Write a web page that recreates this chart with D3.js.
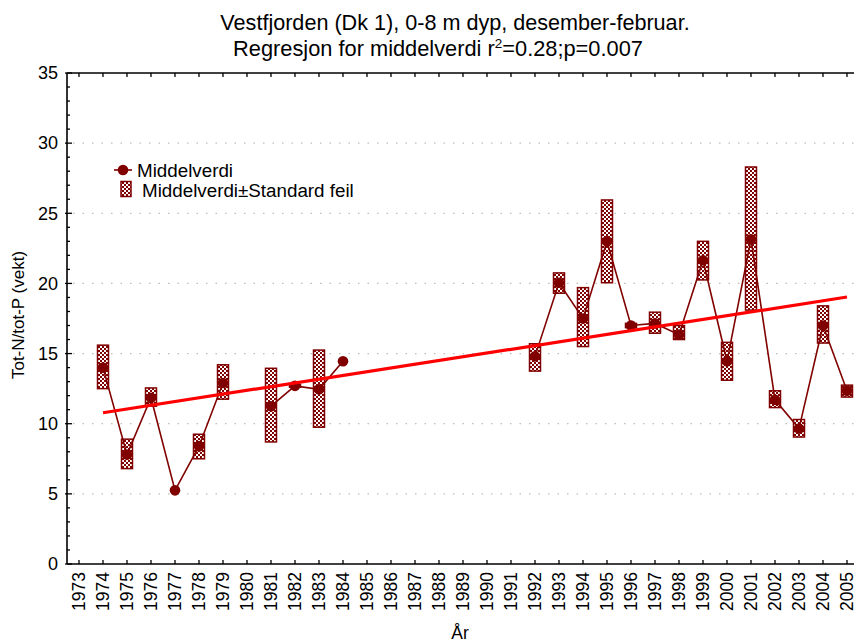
<!DOCTYPE html>
<html>
<head>
<meta charset="utf-8">
<script src="https://cdn.jsdelivr.net/npm/d3@7/dist/d3.min.js"></script>
<style>
  html, body { margin: 0; padding: 0; background: #fff; }
  svg { display: block; font-family: "Liberation Sans", Arial, sans-serif; }
</style>
</head>
<body>
<svg id="chart" width="854" height="642"></svg>
<script>
// Years on the axis
const years = d3.range(1973, 2006);

// Mean Tot-N/tot-P per winter (null = no sampling)
const sampleYears = [1974, 1975, 1976, 1977, 1978, 1979, 1980, 1981, 1982, 1983, 1984,
  1985, 1986, 1987, 1988, 1989, 1990, 1991,
  1992, 1993, 1994, 1995, 1996, 1997, 1998, 1999, 2000, 2001, 2002, 2003, 2004, 2005];
const meanValues = [14.0, 7.8, 11.85, 5.25, 8.4, 12.9, null, 11.25, 12.7, 12.45, 14.45,
  null, null, null, null, null, null, null,
  14.8, 20.05, 17.5, 23.0, 17.0, 17.15, 16.35, 21.65, 14.45, 23.15, 11.7, 9.65, 17.0, 12.35];
// Mean ± standard error (null = single observation)
const seUpper = [15.6, 8.9, 12.55, null, 9.25, 14.2, null, 13.95, 12.8, 15.25, null,
  null, null, null, null, null, null, null,
  15.7, 20.75, 19.7, 25.95, 17.15, 17.95, 17.0, 23.0, 15.8, 28.3, 12.35, 10.3, 18.4, 12.75];
const seLower = [12.5, 6.8, 11.25, null, 7.5, 11.75, null, 8.7, 12.6, 9.75, null,
  null, null, null, null, null, null, null,
  13.75, 19.3, 15.5, 20.05, 16.85, 16.45, 16.0, 20.25, 13.1, 18.1, 11.15, 9.05, 15.75, 11.9];

// Fitted regression line end points
const regYears = [1974, 2005];
const regValues = [10.78, 19.03];

const yMajorTicks = [0, 5, 10, 15, 20, 25, 30, 35];
const yGridTicks = [5, 10, 15, 20, 25, 30];

const titleLine1 = "Vestfjorden (Dk 1), 0-8 m dyp, desember-februar.";
const xTitle = "År";
const yTitle = "Tot-N/tot-P (vekt)";
const legendLabels = ["Middelverdi", "Middelverdi±Standard feil"];

const dark = "#800000";

const svg = d3.select("#chart");
const W = 854, H = 642;
const plotLeft = 67, plotTop = 73, plotBottom = 564;

const x = d3.scaleLinear().domain([1972.5, 2005.5]).range([plotLeft, 859]);
const y = d3.scaleLinear().domain([0, 35]).range([plotBottom, plotTop]);

// Hatch pattern for the standard-error boxes
const defs = svg.append("defs");
const pat = defs.append("pattern").attr("id", "hatch")
  .attr("patternUnits", "userSpaceOnUse").attr("width", 4).attr("height", 4);
pat.append("rect").attr("width", 4).attr("height", 4).attr("fill", "#fff");
pat.append("rect").attr("x", 0).attr("y", 0).attr("width", 2).attr("height", 2).attr("fill", dark);
pat.append("rect").attr("x", 2).attr("y", 2).attr("width", 2).attr("height", 2).attr("fill", dark);

// Dotted horizontal grid
svg.append("g").selectAll("line").data(yGridTicks).join("line")
  .attr("x1", plotLeft + 6).attr("x2", W)
  .attr("y1", d => y(d)).attr("y2", d => y(d))
  .attr("stroke", "#bdbdbd").attr("stroke-width", 1.2)
  .attr("stroke-dasharray", "1.5,8");

// Axes
const yAxis = d3.axisLeft(y).tickValues(yMajorTicks).tickSize(0).tickPadding(9);
const gy = svg.append("g").attr("transform", `translate(${plotLeft},0)`).call(yAxis);
gy.select(".domain").remove();
gy.selectAll("text").attr("font-size", 18).attr("fill", "#000")
  .attr("font-family", "Liberation Sans, Arial, sans-serif");

// y ticks: major and minor, pointing inward
svg.append("g").selectAll("line").data(d3.range(0, 36)).join("line")
  .attr("x1", d => d % 5 === 0 ? plotLeft - 2 : plotLeft)
  .attr("x2", d => d % 5 === 0 ? plotLeft + 5 : plotLeft + 3)
  .attr("y1", d => y(d)).attr("y2", d => y(d))
  .attr("stroke", "#000").attr("stroke-width", 1.3);

// x ticks on bottom and top, pointing inward
const xb = d3.axisBottom(x).tickValues(years).tickSize(0).tickPadding(0).tickFormat(d3.format("d"));
const gx = svg.append("g").attr("transform", `translate(0,${plotBottom})`).call(xb);
gx.select(".domain").remove();
gx.selectAll("text")
  .attr("font-size", 17.5).attr("fill", "#000")
  .attr("font-family", "Liberation Sans, Arial, sans-serif")
  .attr("transform", "rotate(-90)")
  .attr("text-anchor", "end")
  .attr("x", -8).attr("y", 0).attr("dy", "0.3em");

svg.append("g").selectAll("line").data(years).join("line")
  .attr("x1", d => x(d)).attr("x2", d => x(d))
  .attr("y1", plotBottom).attr("y2", plotBottom - 4)
  .attr("stroke", "#000").attr("stroke-width", 1.3);
svg.append("g").selectAll("line").data(years).join("line")
  .attr("x1", d => x(d)).attr("x2", d => x(d))
  .attr("y1", plotTop).attr("y2", plotTop + 4)
  .attr("stroke", "#000").attr("stroke-width", 1.3);

// Frame lines (left, bottom, top)
svg.append("line").attr("x1", plotLeft).attr("x2", plotLeft).attr("y1", plotTop).attr("y2", plotBottom)
  .attr("stroke", "#000").attr("stroke-width", 1.6);
svg.append("line").attr("x1", plotLeft).attr("x2", W).attr("y1", plotBottom).attr("y2", plotBottom)
  .attr("stroke", "#000").attr("stroke-width", 1.6);
svg.append("line").attr("x1", plotLeft).attr("x2", W).attr("y1", plotTop).attr("y2", plotTop)
  .attr("stroke", "#000").attr("stroke-width", 1.6);

// Data rows
const rows = sampleYears.map((yr, i) => ({
  year: yr, mean: meanValues[i], hi: seUpper[i], lo: seLower[i]
}));

// Standard-error boxes
const boxW = 11;
svg.append("g").selectAll("rect")
  .data(rows.filter(d => d.hi != null && d.lo != null))
  .join("rect")
  .attr("x", d => x(d.year) - boxW / 2)
  .attr("width", boxW)
  .attr("y", d => y(d.hi))
  .attr("height", d => y(d.lo) - y(d.hi))
  .attr("fill", "url(#hatch)")
  .attr("stroke", dark).attr("stroke-width", 1.5);

// Mean line with gaps
const line = d3.line()
  .defined(d => d.mean != null)
  .x(d => x(d.year)).y(d => y(d.mean));
svg.append("path").datum(rows).attr("d", line)
  .attr("fill", "none").attr("stroke", dark).attr("stroke-width", 1.6);

// Mean dots
svg.append("g").selectAll("circle")
  .data(rows.filter(d => d.mean != null))
  .join("circle")
  .attr("cx", d => x(d.year)).attr("cy", d => y(d.mean))
  .attr("r", 5.3).attr("fill", dark);

// Regression line
svg.append("line")
  .attr("x1", x(regYears[0])).attr("y1", y(regValues[0]))
  .attr("x2", x(regYears[1])).attr("y2", y(regValues[1]))
  .attr("stroke", "#ff0000").attr("stroke-width", 3.2);

// Legend
const lg = svg.append("g");
lg.append("line").attr("x1", 114).attr("x2", 132).attr("y1", 170).attr("y2", 170)
  .attr("stroke", dark).attr("stroke-width", 1.6);
lg.append("circle").attr("cx", 123).attr("cy", 170).attr("r", 5.3).attr("fill", dark);
lg.append("text").attr("x", 137).attr("y", 176.5).attr("font-size", 18.8).text(legendLabels[0]);
lg.append("rect").attr("x", 121).attr("y", 181.5).attr("width", 10).attr("height", 15)
  .attr("fill", "url(#hatch)").attr("stroke", dark).attr("stroke-width", 1.5);
lg.append("text").attr("x", 142).attr("y", 196.5).attr("font-size", 18.8).text(legendLabels[1]);

// Titles
svg.append("text").attr("x", 455).attr("y", 30).attr("text-anchor", "middle")
  .attr("font-size", 21.6).text(titleLine1);
const t2 = svg.append("text").attr("x", 438).attr("y", 56).attr("text-anchor", "middle")
  .attr("font-size", 21.8);
t2.append("tspan").text("Regresjon for middelverdi r");
t2.append("tspan").attr("font-size", 13.5).attr("dy", -8).text("2");
t2.append("tspan").attr("dy", 8).text("=0.28;p=0.007");

svg.append("text").attr("x", 460).attr("y", 639).attr("text-anchor", "middle")
  .attr("font-size", 17.5).text(xTitle);
svg.append("text").attr("transform", "translate(24,315) rotate(-90)")
  .attr("text-anchor", "middle").attr("font-size", 17).text(yTitle);
</script>
</body>
</html>
